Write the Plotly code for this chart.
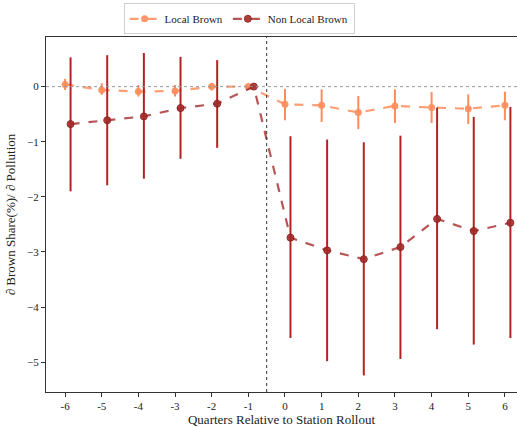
import plotly.graph_objects as go

quarters = [-6, -5, -4, -3, -2, -1, 0, 1, 2, 3, 4, 5, 6]
tick_labels = ["-6", "-5", "-4", "-3", "-2", "-1", "0", "1", "2", "3", "4", "5", "6"]

local_est = [0.04, -0.06, -0.09, -0.08, 0.0, 0.0, -0.32, -0.34, -0.47, -0.35, -0.38, -0.40, -0.34]
local_hi = [0.14, 0.06, 0.03, 0.03, 0.07, 0.0, -0.04, -0.05, -0.17, -0.05, -0.10, -0.14, -0.09]
local_lo = [-0.06, -0.15, -0.18, -0.18, -0.07, 0.0, -0.61, -0.64, -0.77, -0.66, -0.66, -0.68, -0.61]

nonlocal_est = [-0.68, -0.61, -0.54, -0.39, -0.31, 0.0, -2.74, -2.97, -3.13, -2.91, -2.40, -2.62, -2.47]
nonlocal_hi = [0.53, 0.57, 0.61, 0.54, 0.48, 0.0, -0.90, -0.96, -1.01, -0.89, -0.38, -0.55, -0.37]
nonlocal_lo = [-1.90, -1.79, -1.67, -1.31, -1.11, 0.0, -4.56, -4.98, -5.24, -4.94, -4.40, -4.68, -4.56]

offset = 0.15
font = "Liberation Serif, Times New Roman, serif"

local_c = "#FF8C5A"
nonlocal_c = "#A52A2A"

fig = go.Figure()

fig.add_trace(go.Scatter(
    x=quarters, y=local_est, name="Local Brown", mode="lines+markers",
    line=dict(color="rgba(255,140,90,0.85)", width=2.2, dash="dash"),
    marker=dict(color=local_c, size=7, opacity=0.9),
    error_y=dict(type="data", symmetric=False,
                 array=[h - e for h, e in zip(local_hi, local_est)],
                 arrayminus=[e - l for e, l in zip(local_est, local_lo)],
                 color=local_c, thickness=2, width=0),
))

fig.add_trace(go.Scatter(
    x=[q + offset for q in quarters], y=nonlocal_est, name="Non Local Brown", mode="lines+markers",
    line=dict(color="rgba(165,42,42,0.8)", width=2.2, dash="dash"),
    marker=dict(color=nonlocal_c, size=7, opacity=0.9, line=dict(color="#8B1A1A", width=1)),
    error_y=dict(type="data", symmetric=False,
                 array=[h - e for h, e in zip(nonlocal_hi, nonlocal_est)],
                 arrayminus=[e - l for e, l in zip(nonlocal_est, nonlocal_lo)],
                 color="#B22222", thickness=2, width=0),
))

fig.add_hline(y=0, line=dict(color="#999999", width=1, dash="dot"))
fig.add_vline(x=-0.5, line=dict(color="#333333", width=1, dash="dot"))

fig.update_layout(
    width=517, height=427,
    margin=dict(l=46, r=0, t=37, b=33),
    paper_bgcolor="white", plot_bgcolor="white",
    font=dict(family=font, size=11, color="#222222"),
    showlegend=True,
    legend=dict(orientation="h", x=0.41, xanchor="center", y=1.095, yanchor="top",
                bordercolor="#d0d0d0", borderwidth=1, bgcolor="white",
                font=dict(family=font, size=11, color="#222222"),
                itemwidth=30, tracegroupgap=0),
    xaxis=dict(range=[-6.52, 6.33], tickmode="array", tickvals=quarters, ticktext=tick_labels,
               showgrid=False, zeroline=False, showline=True, linecolor="#333333", linewidth=1,
               mirror=True, ticks="outside", ticklen=4, tickcolor="#333333",
               title=dict(text="Quarters Relative to Station Rollout", font=dict(family=font, size=13), standoff=6)),
    yaxis=dict(range=[-5.54, 0.9], tickmode="array", tickvals=[0, -1, -2, -3, -4, -5],
               showgrid=False, zeroline=False, showline=True, linecolor="#333333", linewidth=1,
               ticks="outside", ticklen=4, tickcolor="#333333",
               title=dict(text="∂ Brown Share(%)/ ∂ Pollution", font=dict(family=font, size=13), standoff=8)),
)

fig.write_html("out.html")
